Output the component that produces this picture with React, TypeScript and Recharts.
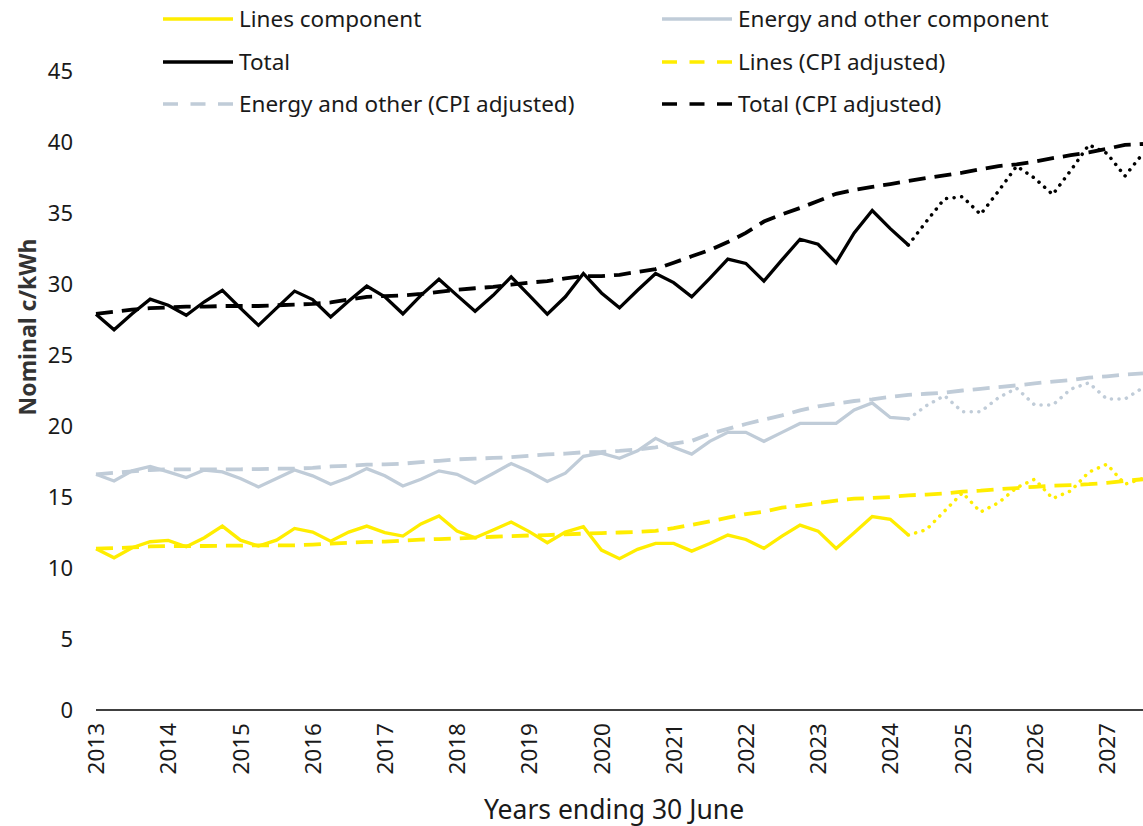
import { LineChart, Line, XAxis, YAxis, Legend } from 'recharts'

// quarterly, years ending 30 June
const years = [2013, 2014, 2015, 2016, 2017, 2018, 2019, 2020, 2021, 2022, 2023, 2024, 2025, 2026, 2027]
const quarters = ['Q1', 'Q2', 'Q3', 'Q4']

// actuals run to index 45, forecasts pick up from that same point
const FORECAST_START = 45

const linesActual = [
  11.36, 10.72, 11.43, 11.85, 11.94, 11.5, 12.13, 12.95, 11.96, 11.54,
  11.96, 12.79, 12.53, 11.89, 12.53, 12.95, 12.49, 12.25, 13.1, 13.66,
  12.6, 12.13, 12.67, 13.24, 12.56, 11.78, 12.53, 12.91, 11.26, 10.65,
  11.31, 11.73, 11.73, 11.19, 11.73, 12.32, 12.01, 11.38, 12.25, 13.02,
  12.6, 11.38, 12.49, 13.62, 13.43, 12.32,
]
const linesForecast = [12.32, 12.7, 14.0, 15.3, 13.94, 14.6, 15.66, 16.25, 14.89, 15.43, 16.75, 17.31, 15.9, 16.3]

const energyActual = [
  16.6, 16.13, 16.84, 17.15, 16.77, 16.37, 16.9, 16.77, 16.3, 15.71,
  16.3, 16.9, 16.49, 15.9, 16.37, 17.0, 16.49, 15.78, 16.25, 16.84,
  16.6, 15.97, 16.65, 17.36, 16.8, 16.09, 16.68, 17.86, 18.09, 17.72,
  18.25, 19.13, 18.5, 18.02, 18.92, 19.55, 19.55, 18.92, 19.55, 20.18,
  20.18, 20.18, 21.13, 21.63, 20.6, 20.5,
]
const energyForecast = [20.5, 21.43, 22.14, 21.0, 21.0, 22.0, 22.66, 21.48, 21.48, 22.6, 23.04, 21.9, 21.9, 22.7]

const totalActual = [
  27.87, 26.78, 27.9, 28.93, 28.5, 27.8, 28.75, 29.56, 28.3, 27.09,
  28.3, 29.5, 28.9, 27.68, 28.8, 29.85, 29.1, 27.9, 29.2, 30.34,
  29.2, 28.08, 29.2, 30.5, 29.2, 27.87, 29.1, 30.74, 29.37, 28.32,
  29.56, 30.74, 30.1, 29.1, 30.4, 31.75, 31.45, 30.2, 31.7, 33.15,
  32.8, 31.5, 33.6, 35.17, 33.9, 32.74,
]
const totalForecast = [32.74, 34.4, 36.0, 36.15, 34.9, 36.55, 38.3, 37.45, 36.3, 38.0, 39.8, 39.2, 37.6, 39.2]

const linesCpi = [
  11.36, 11.4, 11.45, 11.52, 11.54, 11.54, 11.55, 11.57, 11.58, 11.59,
  11.6, 11.6, 11.65, 11.72, 11.78, 11.84, 11.86, 11.93, 12.0, 12.04,
  12.08, 12.14, 12.2, 12.25, 12.29, 12.32, 12.37, 12.42, 12.46, 12.5,
  12.54, 12.62, 12.8, 13.04, 13.29, 13.54, 13.8, 13.97, 14.25, 14.4,
  14.58, 14.75, 14.88, 14.93, 15.0, 15.12, 15.17, 15.25, 15.38, 15.45,
  15.55, 15.63, 15.72, 15.8, 15.84, 15.9, 16.0, 16.13, 16.25,
]
const energyCpi = [
  16.6, 16.7, 16.8, 16.9, 16.95, 16.95, 16.95, 16.95, 16.95, 16.97,
  17.0, 17.0, 17.05, 17.15, 17.2, 17.28, 17.3, 17.35, 17.45, 17.55,
  17.65, 17.7, 17.75, 17.8, 17.9, 18.0, 18.05, 18.15, 18.18, 18.25,
  18.35, 18.5, 18.76, 18.95, 19.45, 19.8, 20.14, 20.45, 20.75, 21.1,
  21.38, 21.58, 21.76, 21.87, 22.05, 22.19, 22.27, 22.35, 22.5, 22.62,
  22.74, 22.86, 23.0, 23.13, 23.24, 23.4, 23.5, 23.62, 23.7,
]
const totalCpi = [
  27.9, 28.05, 28.2, 28.3, 28.35, 28.4, 28.4, 28.45, 28.45, 28.45,
  28.5, 28.55, 28.6, 28.7, 28.9, 29.1, 29.15, 29.2, 29.3, 29.45,
  29.6, 29.7, 29.8, 29.95, 30.1, 30.2, 30.4, 30.55, 30.55, 30.65,
  30.85, 31.05, 31.5, 31.95, 32.4, 32.95, 33.6, 34.4, 34.9, 35.35,
  35.85, 36.35, 36.63, 36.84, 37.04, 37.25, 37.46, 37.65, 37.84, 38.08,
  38.3, 38.43, 38.62, 38.86, 39.07, 39.27, 39.52, 39.8, 39.86,
]

const yTicks = [0, 5, 10, 15, 20, 25, 30, 35, 40, 45]

const YELLOW = '#FFED00'
const GREY = '#C0CCD8'
const BLACK = '#000000'
const TEXT = '#1a1a1a'
const FONT = '"Noto Sans", sans-serif'

const DASH = '17 9'
const DOTS = '0.1 7.5'

const periods = years.flatMap((y) => quarters.map((q) => `${y} ${q}`)).slice(0, totalCpi.length)

const data = periods.map((period, i) => ({
  period,
  lines: i < linesActual.length ? linesActual[i] : null,
  energy: i < energyActual.length ? energyActual[i] : null,
  total: i < totalActual.length ? totalActual[i] : null,
  linesF: i >= FORECAST_START ? linesForecast[i - FORECAST_START] : null,
  energyF: i >= FORECAST_START ? energyForecast[i - FORECAST_START] : null,
  totalF: i >= FORECAST_START ? totalForecast[i - FORECAST_START] : null,
  linesCpi: linesCpi[i],
  energyCpi: energyCpi[i],
  totalCpi: totalCpi[i],
}))

// legend order, left to right then down
const legendItems = [
  { name: 'Lines component', color: YELLOW, dashed: false },
  { name: 'Energy and other component', color: GREY, dashed: false },
  { name: 'Total', color: BLACK, dashed: false },
  { name: 'Lines (CPI adjusted)', color: YELLOW, dashed: true },
  { name: 'Energy and other (CPI adjusted)', color: GREY, dashed: true },
  { name: 'Total (CPI adjusted)', color: BLACK, dashed: true },
]

const renderLegend = () => (
  <div style={{ position: 'relative', width: 1143, height: 130 }}>
    {legendItems.map((item, i) => (
      <div
        key={item.name}
        style={{
          position: 'absolute',
          left: 163 + (i % 2) * 499,
          top: 19.3 + Math.floor(i / 2) * 42.35 - 15,
          height: 30,
          display: 'flex',
          alignItems: 'center',
          whiteSpace: 'nowrap',
        }}
      >
        <svg width={70} height={10}>
          <line
            x1={0}
            y1={5}
            x2={70}
            y2={5}
            stroke={item.color}
            strokeWidth={3.5}
            strokeDasharray={item.dashed ? '15 12.5' : undefined}
          />
        </svg>
        <span style={{ marginLeft: 6, fontSize: 22.5, fontFamily: FONT, color: TEXT, lineHeight: '30px' }}>
          {item.name}
        </span>
      </div>
    ))}
  </div>
)

const YearTick = ({ x, y, payload }: any) => (
  <text
    x={x}
    y={y}
    dy="0.36em"
    transform={`rotate(-90, ${x}, ${y})`}
    textAnchor="end"
    fontSize={22.5}
    fontFamily={FONT}
    fill={TEXT}
  >
    {String(payload.value).slice(0, 4)}
  </text>
)

const yLabel = () => (
  <text
    x={27}
    y={327}
    transform="rotate(-90, 27, 327)"
    textAnchor="middle"
    dominantBaseline="central"
    fontSize={23}
    fontWeight={700}
    fontFamily={FONT}
    fill="#333333"
  >
    Nominal c/kWh
  </text>
)

const xLabel = () => (
  <text
    x={614}
    y={809}
    textAnchor="middle"
    dominantBaseline="central"
    fontSize={26.5}
    fontFamily={FONT}
    fill={TEXT}
  >
    Years ending 30 June
  </text>
)

export default function App() {
  return (
    <div style={{ position: 'absolute', left: 0, top: 0, width: 1143, height: 826, background: '#fff' }}>
      <LineChart width={1143} height={826} data={data} margin={{ top: 71, right: 0, bottom: 0, left: 0 }}>
        <XAxis
          dataKey="period"
          interval={3}
          height={116}
          tickLine={false}
          tickSize={0}
          tickMargin={13}
          axisLine={{ stroke: '#000', strokeWidth: 1.5 }}
          tick={<YearTick />}
          label={xLabel}
        />
        <YAxis
          domain={[0, 45]}
          ticks={yTicks}
          width={96}
          axisLine={false}
          tickLine={false}
          tickSize={0}
          tickMargin={23}
          tick={{ fill: TEXT, fontSize: 22, fontFamily: FONT }}
          label={yLabel}
        />
        <Legend
          layout="horizontal"
          verticalAlign="middle"
          align="center"
          wrapperStyle={{ left: 0, top: 0, width: 1143, height: 130 }}
          content={renderLegend}
        />

        <Line dataKey="linesCpi" name="Lines (CPI adjusted)" stroke={YELLOW} strokeWidth={3.8} strokeDasharray={DASH} dot={false} activeDot={false} isAnimationActive={false} />
        <Line dataKey="energyCpi" name="Energy and other (CPI adjusted)" stroke={GREY} strokeWidth={3.8} strokeDasharray={DASH} dot={false} activeDot={false} isAnimationActive={false} />
        <Line dataKey="totalCpi" name="Total (CPI adjusted)" stroke={BLACK} strokeWidth={3.8} strokeDasharray={DASH} dot={false} activeDot={false} isAnimationActive={false} />

        <Line dataKey="linesF" name="Lines forecast" legendType="none" stroke={YELLOW} strokeWidth={3.5} strokeDasharray={DOTS} strokeLinecap="round" dot={false} activeDot={false} isAnimationActive={false} />
        <Line dataKey="energyF" name="Energy forecast" legendType="none" stroke={GREY} strokeWidth={3.5} strokeDasharray={DOTS} strokeLinecap="round" dot={false} activeDot={false} isAnimationActive={false} />
        <Line dataKey="totalF" name="Total forecast" legendType="none" stroke={BLACK} strokeWidth={3.5} strokeDasharray={DOTS} strokeLinecap="round" dot={false} activeDot={false} isAnimationActive={false} />

        <Line dataKey="lines" name="Lines component" stroke={YELLOW} strokeWidth={3.3} dot={false} activeDot={false} isAnimationActive={false} />
        <Line dataKey="energy" name="Energy and other component" stroke={GREY} strokeWidth={3.3} dot={false} activeDot={false} isAnimationActive={false} />
        <Line dataKey="total" name="Total" stroke={BLACK} strokeWidth={3.3} dot={false} activeDot={false} isAnimationActive={false} />
      </LineChart>
    </div>
  )
}
